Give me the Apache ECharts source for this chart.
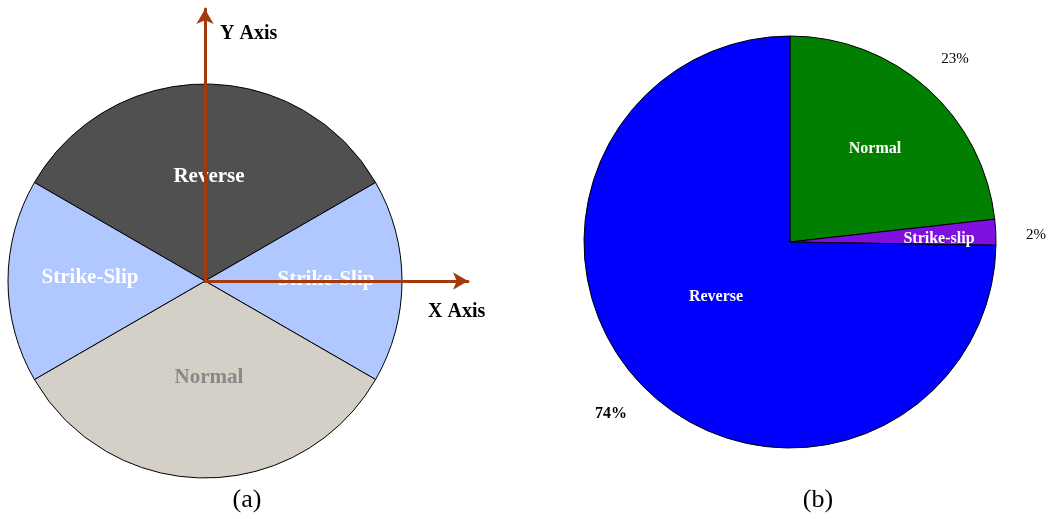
<!DOCTYPE html>
<html>
<head>
<meta charset="utf-8">
<script src="https://cdn.jsdelivr.net/npm/echarts@6/dist/echarts.min.js"></script>
<style>
  html, body { margin: 0; padding: 0; background: #ffffff; }
  #chart { width: 1051px; height: 519px; }
</style>
</head>
<body>
<div id="chart"></div>
<script>
// (a) schematic: fault type by rake sector, angular span of each sector in degrees
const sectorNames = ['Reverse', 'Strike-Slip', 'Normal', 'Strike-Slip'];
const sectorSpans = [120, 60, 120, 60];

// (b) share of events by fault type, percent
const faultTypes = ['Normal', 'Strike-slip', 'Reverse'];
const faultShares = [23, 2, 74];

const FONT = '"Liberation Serif", "Times New Roman", serif';

// colours and label placement (relative to each pie centre)
const sectorColors = ['#505050', '#B0C8FF', '#D4D0C8', '#B0C8FF'];
const sectorLabelColors = ['#ffffff', '#ffffff', '#888888', '#ffffff'];
const sectorLabelOffsets = [[4, -104], [121, -1], [4, 97], [-115, -3]];

const faultColors = ['#007F00', '#7F10E0', '#0000FF'];
const nameLabelOffsets = [[85, -93], [149, -3], [-74, 55]];
const pctLabelOffsets = [[165, -183], [246, -7], [-179, 172]];
const pctLabelBold = [false, false, true];

const centerA = [205, 281];
const centerB = [790, 242];
const radiusA = 197;
const radiusB = 206;

function placeAt(center, offsets) {
  return function (p) {
    const o = offsets[p.dataIndex];
    return { x: center[0] + o[0], y: center[1] + o[1], align: 'center', verticalAlign: 'middle' };
  };
}

const chart = echarts.init(document.getElementById('chart'), null, { renderer: 'canvas' });

chart.setOption({
  animation: false,
  backgroundColor: '#ffffff',
  textStyle: { fontFamily: FONT },
  grid: {
    left: centerA[0], top: 9, width: 263, height: centerA[1] - 9,
    containLabel: false
  },
  xAxis: {
    type: 'value', min: 0, max: 1, z: 10,
    name: 'X Axis',
    nameLocation: 'end',
    nameGap: -40,
    nameTextStyle: {
      fontFamily: FONT, fontSize: 20, fontWeight: 'bold', color: '#000',
      align: 'left', verticalAlign: 'top', padding: [21, 0, 0, 0]
    },
    axisLine: {
      show: true, onZero: false,
      symbol: ['none', 'arrow'], symbolSize: [13, 15],
      lineStyle: { color: '#A33A0E', width: 3 }
    },
    axisTick: { show: false }, axisLabel: { show: false }, splitLine: { show: false }
  },
  yAxis: {
    type: 'value', min: 0, max: 1, z: 10,
    name: 'Y Axis',
    nameLocation: 'end',
    nameGap: -25,
    nameTextStyle: {
      fontFamily: FONT, fontSize: 20, fontWeight: 'bold', color: '#000',
      align: 'left', verticalAlign: 'middle', padding: [0, 0, 0, 15]
    },
    axisLine: {
      show: true, onZero: false,
      symbol: ['none', 'arrow'], symbolSize: [13, 15],
      lineStyle: { color: '#A33A0E', width: 3 }
    },
    axisTick: { show: false }, axisLabel: { show: false }, splitLine: { show: false }
  },
  series: [
    {
      type: 'pie',
      center: centerA,
      radius: radiusA,
      startAngle: 150,
      clockwise: true,
      silent: true,
      z: 2,
      itemStyle: { borderColor: '#000', borderWidth: 1 },
      label: {
        show: true, position: 'inside',
        fontFamily: FONT, fontSize: 21, fontWeight: 'bold',
        formatter: '{b}'
      },
      labelLine: { show: false },
      labelLayout: placeAt(centerA, sectorLabelOffsets),
      data: sectorNames.map((n, i) => ({
        name: n, value: sectorSpans[i],
        itemStyle: { color: sectorColors[i] },
        label: { color: sectorLabelColors[i] }
      }))
    },
    {
      type: 'pie',
      center: centerB,
      radius: radiusB,
      startAngle: 90,
      clockwise: true,
      silent: true,
      itemStyle: { borderColor: '#000', borderWidth: 1 },
      label: {
        show: true, position: 'inside',
        fontFamily: FONT, fontSize: 16, fontWeight: 'bold', color: '#ffffff',
        formatter: '{b}'
      },
      labelLine: { show: false },
      labelLayout: placeAt(centerB, nameLabelOffsets),
      data: faultTypes.map((n, i) => ({
        name: n, value: faultShares[i],
        itemStyle: { color: faultColors[i] }
      }))
    },
    {
      // percentage labels around pie (b)
      type: 'pie',
      center: centerB,
      radius: radiusB,
      startAngle: 90,
      clockwise: true,
      silent: true,
      z: 3,
      itemStyle: { color: 'rgba(0,0,0,0)', borderWidth: 0 },
      label: {
        show: true, position: 'inside',
        fontFamily: FONT, fontSize: 15, color: '#000',
        formatter: (p) => p.value + '%'
      },
      labelLine: { show: false },
      labelLayout: placeAt(centerB, pctLabelOffsets),
      data: faultTypes.map((n, i) => ({
        name: n, value: faultShares[i],
        label: pctLabelBold[i] ? { fontWeight: 'bold', fontSize: 16 } : {}
      }))
    }
  ],
  // panel captions
  graphic: [
    {
      type: 'text', x: 247, y: 500,
      style: { text: '(a)', font: '26px ' + FONT, fill: '#000', textAlign: 'center', textVerticalAlign: 'middle' }
    },
    {
      type: 'text', x: 818, y: 500,
      style: { text: '(b)', font: '26px ' + FONT, fill: '#000', textAlign: 'center', textVerticalAlign: 'middle' }
    }
  ]
});
</script>
</body>
</html>
